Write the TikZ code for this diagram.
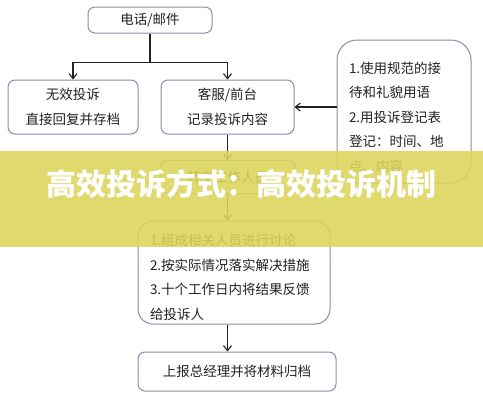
\documentclass[tikz,border=0pt]{standalone}
\usepackage{fontspec}
\setmainfont{Noto Sans CJK SC}
\usetikzlibrary{positioning,arrows.meta,calc}
\definecolor{boxline}{HTML}{8A8AB2}
\definecolor{inkgray}{HTML}{222222}
\definecolor{bannerylw}{HTML}{DCD45A}

\begin{document}
\begin{tikzpicture}[x=1pt, y=-1pt,
    every node/.style={font=\fontsize{13.5}{24.5}\selectfont, text=inkgray},
    flowbox/.style={draw=boxline, line width=1pt, fill=white, rounded corners=7pt, inner sep=0pt},
    arr/.style={-{Straight Barb[length=5pt,width=8pt]}, inkgray, line width=1.1pt}]
    \useasboundingbox (0,0) rectangle (483,400);
    \node (tel) [flowbox, minimum width=124pt, minimum height=26pt] at (150,20) {电话/邮件};
    \node (wx) [flowbox, minimum width=130pt, minimum height=54pt, align=center] at (73,107) {无效投诉\\直接回复并存档};
    \node (ks) [flowbox, minimum width=133pt, minimum height=54pt, align=center] at (227.5,107) {客服/前台\\记录投诉内容};
    \node (rule) [flowbox, rounded corners=20pt, minimum width=134pt, minimum height=143pt, text width=110pt, align=left] at (404,111.5)
      {\rule{0pt}{23pt}1.使用规范的接\\待和礼貌用语\\2.用投诉登记表\\登记：时间、地\\点、内容};
    \node (zj) [flowbox, minimum width=135pt, minimum height=33pt] at (227.5,177) {转交工作人员};
    \node (cl) [flowbox, rounded corners=15pt, minimum width=192pt, minimum height=103pt, text width=168pt, align=left] at (234,272.5)
      {\rule{0pt}{21pt}1.组成相关人员进行讨论\\2.按实际情况落实解决措施\\3.十个工作日内将结果反馈\\给投诉人};
    \node (gd) [flowbox, minimum width=198pt, minimum height=39pt] at (237,371.5) {上报总经理并将材料归档};
    \draw[inkgray, line width=1.1pt] (tel.south) -- ++(0,29) coordinate (split);
    \draw[arr] (split) -| (wx.north);
    \draw[arr] (split) -| (ks.north);
    \draw[arr] (rule.west |- ks.east) -- (ks.east);
    \draw[arr] (ks.south) -- (zj.north);
    \draw[arr] (zj.south) -- (zj.south |- cl.north);
    \draw[arr] (zj.south |- cl.south) -- (zj.south |- gd.north);
    % banner across the middle
    \fill[bannerylw, fill opacity=0.88] (0,151) rectangle (483,247);
    \node (title) at (241.5,184) {\fontsize{30}{30}\selectfont\bfseries\color{white}高效投诉方式：高效投诉机制};
\end{tikzpicture}
\end{document}
